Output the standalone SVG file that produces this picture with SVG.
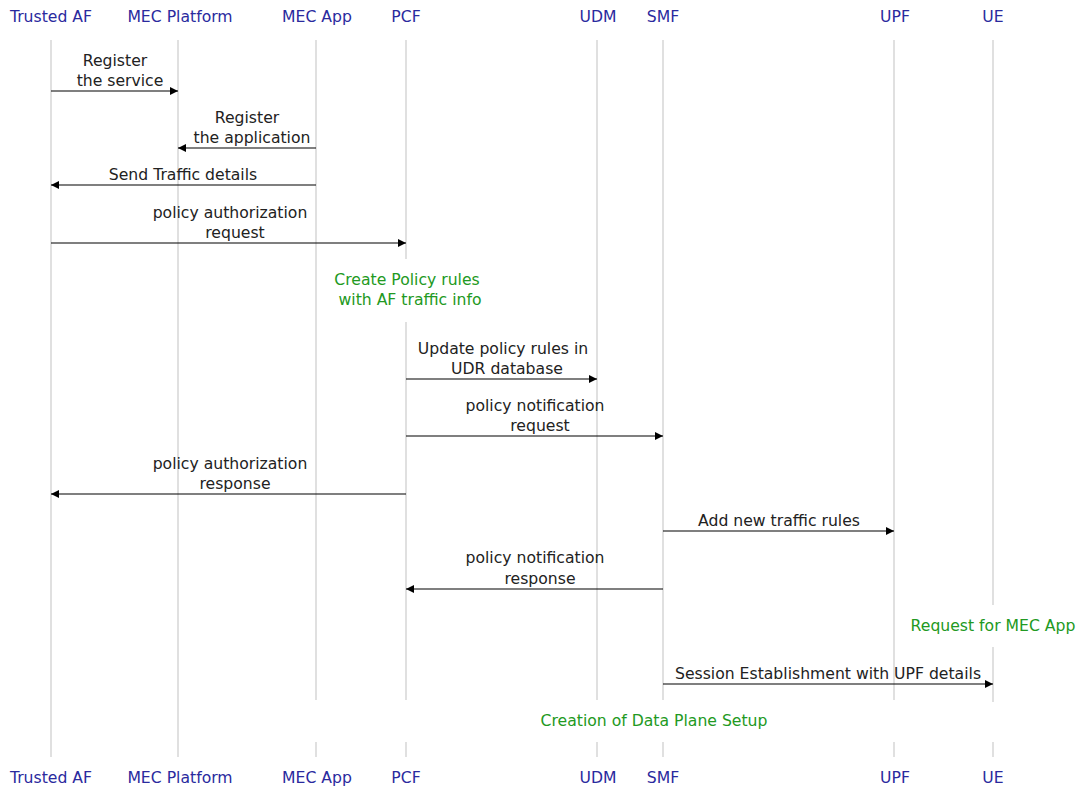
<svg xmlns="http://www.w3.org/2000/svg" width="1077" height="790" viewBox="0 0 1077 790">
<defs>
<marker id="ah" viewBox="0 0 10 10" refX="10" refY="5" markerWidth="8" markerHeight="8" markerUnits="userSpaceOnUse" orient="auto">
<path d="M0,0 L10,5 L0,10 z" fill="#000"/>
</marker>
<style>
text{font-family:"DejaVu Sans",sans-serif;font-size:15.65px;text-anchor:middle}
.h{fill:#2a2a9e}
.m{fill:#222}
.n{fill:#229922}
.life{stroke:#cccccc;stroke-width:1.2;fill:none}
.msg{stroke:#000;stroke-width:1.2;fill:none;marker-end:url(#ah)}
</style>
</defs>
<rect width="1077" height="790" fill="#fff"/>
<g id="lifelines">
<line class="life" x1="51" y1="40" x2="51" y2="757"/>
<line class="life" x1="178" y1="40" x2="178" y2="757"/>
<path class="life" d="M316,40 V700 M316,742 V757"/>
<path class="life" d="M406,40 V259 M406,322 V700 M406,742 V757"/>
<path class="life" d="M597,40 V700 M597,742 V757"/>
<path class="life" d="M663,40 V700 M663,742 V757"/>
<path class="life" d="M894,40 V700 M894,742 V757"/>
<path class="life" d="M993,40 V605 M993,647 V702 M993,742 V757"/>
</g>
<g id="node-trusted-af"><text class="h" x="51" y="22">Trusted AF</text><text class="h" x="51" y="783">Trusted AF</text></g>
<g id="node-mec-platform"><text class="h" x="180" y="22">MEC Platform</text><text class="h" x="180" y="783">MEC Platform</text></g>
<g id="node-mec-app"><text class="h" x="317" y="22">MEC App</text><text class="h" x="317" y="783">MEC App</text></g>
<g id="node-pcf"><text class="h" x="406" y="22">PCF</text><text class="h" x="406" y="783">PCF</text></g>
<g id="node-udm"><text class="h" x="598" y="22">UDM</text><text class="h" x="598" y="783">UDM</text></g>
<g id="node-smf"><text class="h" x="663" y="22">SMF</text><text class="h" x="663" y="783">SMF</text></g>
<g id="node-upf"><text class="h" x="895" y="22">UPF</text><text class="h" x="895" y="783">UPF</text></g>
<g id="node-ue"><text class="h" x="993" y="22">UE</text><text class="h" x="993" y="783">UE</text></g>
<g id="notes">
<text class="n" x="407" y="285">Create Policy rules</text>
<text class="n" x="410" y="305">with AF traffic info</text>
<text class="n" x="993" y="631">Request for MEC App</text>
<text class="n" x="654" y="726">Creation of Data Plane Setup</text>
</g>
<g id="connectors">
<line class="msg" x1="51" y1="91" x2="178" y2="91"/>
<line class="msg" x1="316" y1="148" x2="178" y2="148"/>
<line class="msg" x1="316" y1="185" x2="51" y2="185"/>
<line class="msg" x1="51" y1="243" x2="406" y2="243"/>
<line class="msg" x1="406" y1="379" x2="597" y2="379"/>
<line class="msg" x1="406" y1="436" x2="663" y2="436"/>
<line class="msg" x1="406" y1="494" x2="51" y2="494"/>
<line class="msg" x1="663" y1="531" x2="894" y2="531"/>
<line class="msg" x1="663" y1="589" x2="406" y2="589"/>
<line class="msg" x1="663" y1="684" x2="993" y2="684"/>
</g>
<g id="labels">
<text class="m" x="115" y="66">Register</text>
<text class="m" x="120" y="86">the service</text>
<text class="m" x="247" y="123">Register</text>
<text class="m" x="252" y="143">the application</text>
<text class="m" x="183" y="180">Send Traffic details</text>
<text class="m" x="230" y="218">policy authorization</text>
<text class="m" x="235" y="238">request</text>
<text class="m" x="503" y="354">Update policy rules in</text>
<text class="m" x="507" y="374">UDR database</text>
<text class="m" x="535" y="411">policy notification</text>
<text class="m" x="540" y="431">request</text>
<text class="m" x="230" y="469">policy authorization</text>
<text class="m" x="235" y="489">response</text>
<text class="m" x="779" y="526">Add new traffic rules</text>
<text class="m" x="535" y="563">policy notification</text>
<text class="m" x="540" y="584">response</text>
<text class="m" x="828" y="679">Session Establishment with UPF details</text>
</g>
</svg>
